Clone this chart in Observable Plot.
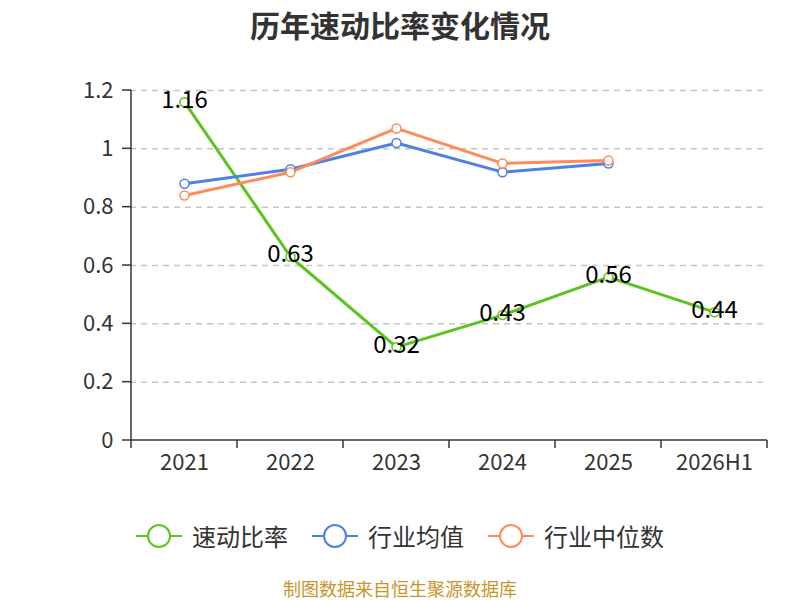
<!DOCTYPE html>
<html><head><meta charset="utf-8">
<script src="https://cdn.jsdelivr.net/npm/d3@7"></script>
<script src="https://cdn.jsdelivr.net/npm/@observablehq/plot@0.6"></script>
<style>
body{margin:0;background:#fff;font-family:"Noto Sans CJK SC","Noto Sans",sans-serif;}
#wrap{position:relative;width:800px;height:600px;overflow:hidden;}
#title{position:absolute;left:0;top:3px;width:800px;text-align:center;font-size:30px;font-weight:bold;color:#333;line-height:42px;}
#chart{position:absolute;left:0;top:50px;}
#legend{position:absolute;left:0;top:518px;width:800px;display:flex;justify-content:center;gap:24px;font-size:24px;color:#333;line-height:36px;}
.li{display:flex;align-items:center;gap:10px;}
#caption{position:absolute;left:0;top:576px;width:800px;text-align:center;font-size:18px;color:#c8952c;line-height:24px;}
</style></head>
<body><div id="wrap">
<div id="title">历年速动比率变化情况</div>
<div id="chart"></div>
<div id="legend"></div>
<div id="caption">制图数据来自恒生聚源数据库</div>
</div>
<script>
const years = ["2021","2022","2023","2024","2025","2026H1"];
const quickRatio = [1.16, 0.63, 0.32, 0.43, 0.56, 0.44];
const industryMean = [0.88, 0.93, 1.02, 0.92, 0.95];
const industryMedian = [0.84, 0.92, 1.07, 0.95, 0.96];
const yTicks = [0, 0.2, 0.4, 0.6, 0.8, 1, 1.2];
const seriesNames = ["速动比率","行业均值","行业中位数"];
const colors = ["#5cc31f","#4f81e3","#ff8c58"];

const rows = [];
years.forEach((y,i)=>rows.push({year:y, value:quickRatio[i], s:seriesNames[0]}));
industryMean.forEach((v,i)=>rows.push({year:years[i], value:v, s:seriesNames[1]}));
industryMedian.forEach((v,i)=>rows.push({year:years[i], value:v, s:seriesNames[2]}));
const qr = rows.filter(d=>d.s===seriesNames[0]);

function axesMark(index, scales, values, dimensions) {
  const g = d3.create("svg:g");
  const x = scales.x, y = scales.y, bw = x.bandwidth();
  const edges = years.map(c=>x(c)).concat([x(years[years.length-1])+bw]);
  const y0 = y(0), y1 = y(1.2);
  const left = edges[0];
  g.append("line").attr("x1",left).attr("x2",left).attr("y1",y1).attr("y2",y0)
    .attr("stroke","#333").attr("stroke-width",1.5);
  g.append("line").attr("x1",left).attr("x2",edges[edges.length-1]).attr("y1",y0).attr("y2",y0)
    .attr("stroke","#333").attr("stroke-width",1.5);
  edges.forEach(e=>g.append("line").attr("x1",e).attr("x2",e).attr("y1",y0).attr("y2",y0+8)
    .attr("stroke","#333").attr("stroke-width",1.5));
  yTicks.forEach(t=>g.append("line").attr("x1",left-9).attr("x2",left).attr("y1",y(t)).attr("y2",y(t))
    .attr("stroke","#333").attr("stroke-width",1.5));
  return g.node();
}

const chart = Plot.plot({
  width: 800, height: 440,
  marginLeft: 130, marginRight: 32, marginTop: 40, marginBottom: 50,
  style: {fontFamily: '"Noto Sans CJK SC","Noto Sans",sans-serif', fontSize: "22px", color: "#333", background: "#fff", overflow: "visible"},
  x: {type: "band", domain: years, padding: 0, label: null},
  y: {domain: [0, 1.2], label: null},
  color: {domain: seriesNames, range: colors},
  marks: [
    Plot.gridY(yTicks.filter(t=>t>0), {stroke:"#c4c4c4", strokeOpacity:1, strokeDasharray:"6,5", strokeWidth:1.5}),
    Plot.axisY(yTicks, {tickSize: 0, tickPadding: 17, tickFormat: d=>String(d), fontSize: 22, fill:"#333", label:null}),
    Plot.axisX({tickSize: 0, tickPadding: 14, fontSize: 22, fill:"#333", label:null}),
    axesMark,
    Plot.line(rows, {x:"year", y:"value", z:"s", stroke:"s", strokeWidth:3}),
    Plot.dot(rows, {x:"year", y:"value", stroke:"s", fill:"white", r:4.5, strokeWidth:1.5}),
    Plot.text(qr, {x:"year", y:"value", text:d=>String(d.value), fontSize: 24, fill:"#000", dy:-2})
  ]
});
document.getElementById("chart").appendChild(chart);

const leg = document.getElementById("legend");
seriesNames.forEach((n,i)=>{
  const item = document.createElement("div"); item.className="li";
  item.innerHTML = `<svg width="46" height="26"><line x1="0" x2="46" y1="13" y2="13" stroke="${colors[i]}" stroke-width="2"/><circle cx="23" cy="13" r="11" fill="white" stroke="${colors[i]}" stroke-width="2"/></svg><span>${n}</span>`;
  leg.appendChild(item);
});
</script>
</body></html>
